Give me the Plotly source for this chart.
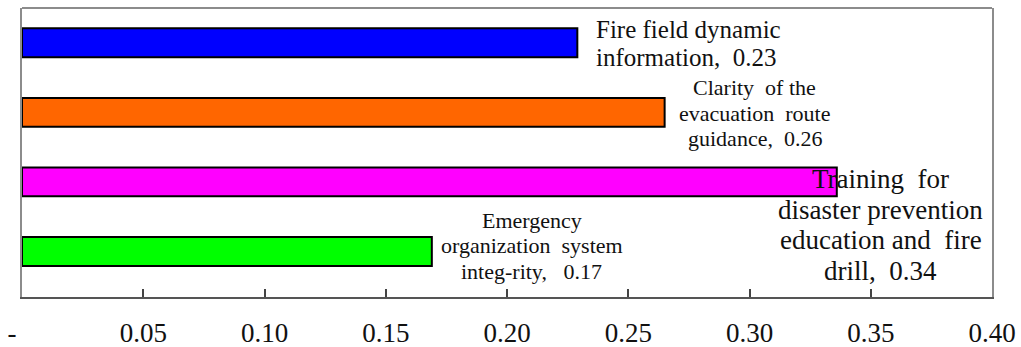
import plotly.graph_objects as go

categories = ["Fire field dynamic information",
              "Clarity of the evacuation route guidance",
              "Training for disaster prevention education and fire drill",
              "Emergency organization system integ-rity"]
values = [0.229, 0.265, 0.336, 0.169]
colors = ["#0000FF", "#FF6600", "#FF00FF", "#00FF00"]
label_lines = [
    ["Fire field dynamic", "information,  0.23"],
    ["Clarity  of the", "evacuation  route", "guidance,  0.26"],
    ["Training  for", "disaster prevention", "education and  fire", "drill,  0.34"],
    ["Emergency", "organization  system", "integ-rity,   0.17"],
]
tick_vals = [0, 0.05, 0.10, 0.15, 0.20, 0.25, 0.30, 0.35, 0.40]
tick_text = ["-\u00a0\u00a0\u00a0", "0.05", "0.10", "0.15", "0.20", "0.25", "0.30", "0.35", "0.40"]

# label styling: (xanchor, xshift, font size, yshifts per line)
label_style = [
    ("left", 17, 25, [13, -15]),
    ("center", 90, 22, [25, -1, -26]),
    ("center", 44, 27, [3, -28, -58, -89]),
    ("center", 100, 22, [31, 6, -20]),
]

FONT = "Liberation Serif"

fig = go.Figure(go.Bar(
    x=values, y=categories, orientation="h",
    marker=dict(color=colors, line=dict(color="#000000", width=2)),
    width=0.415, hoverinfo="skip",
))

for cat, val, lines, (xa, xs, fs, ys) in zip(categories, values, label_lines, label_style):
    for line, dy in zip(lines, ys):
        fig.add_annotation(x=val, y=cat, xref="x", yref="y", text=line,
                           showarrow=False, xanchor=xa, yanchor="middle",
                           xshift=xs, yshift=dy,
                           font=dict(family=FONT, size=fs, color="#111111"))

fig.add_shape(type="line", xref="paper", yref="paper", x0=0, x1=1, y0=1, y1=1,
              line=dict(color="#8c8c8c", width=2))

fig.update_layout(
    width=1021, height=347,
    margin=dict(l=22, r=29, t=8, b=50, autoexpand=False),
    paper_bgcolor="white", plot_bgcolor="white",
    showlegend=False,
    font=dict(family=FONT, color="#111111"),
    xaxis=dict(range=[0, 0.40], tickvals=tick_vals, ticktext=tick_text,
               ticks="inside", ticklen=8, tickcolor="#444", tickwidth=1.5,
               showgrid=False, zeroline=False, showline=True, linecolor="#555",
               linewidth=2, tickfont=dict(size=27, family=FONT, color="#111111"),
               ticklabelstandoff=11, automargin=False),
    yaxis=dict(categoryorder="array", categoryarray=categories, autorange="reversed",
               showticklabels=False, ticks="", showgrid=False, zeroline=False,
               showline=True, linecolor="#8c8c8c", linewidth=2, mirror=True,
               automargin=False),
)

fig.write_html("out.html", config={"displayModeBar": False},
               post_script="document.body.style.margin='0';document.body.style.overflow='hidden';")
